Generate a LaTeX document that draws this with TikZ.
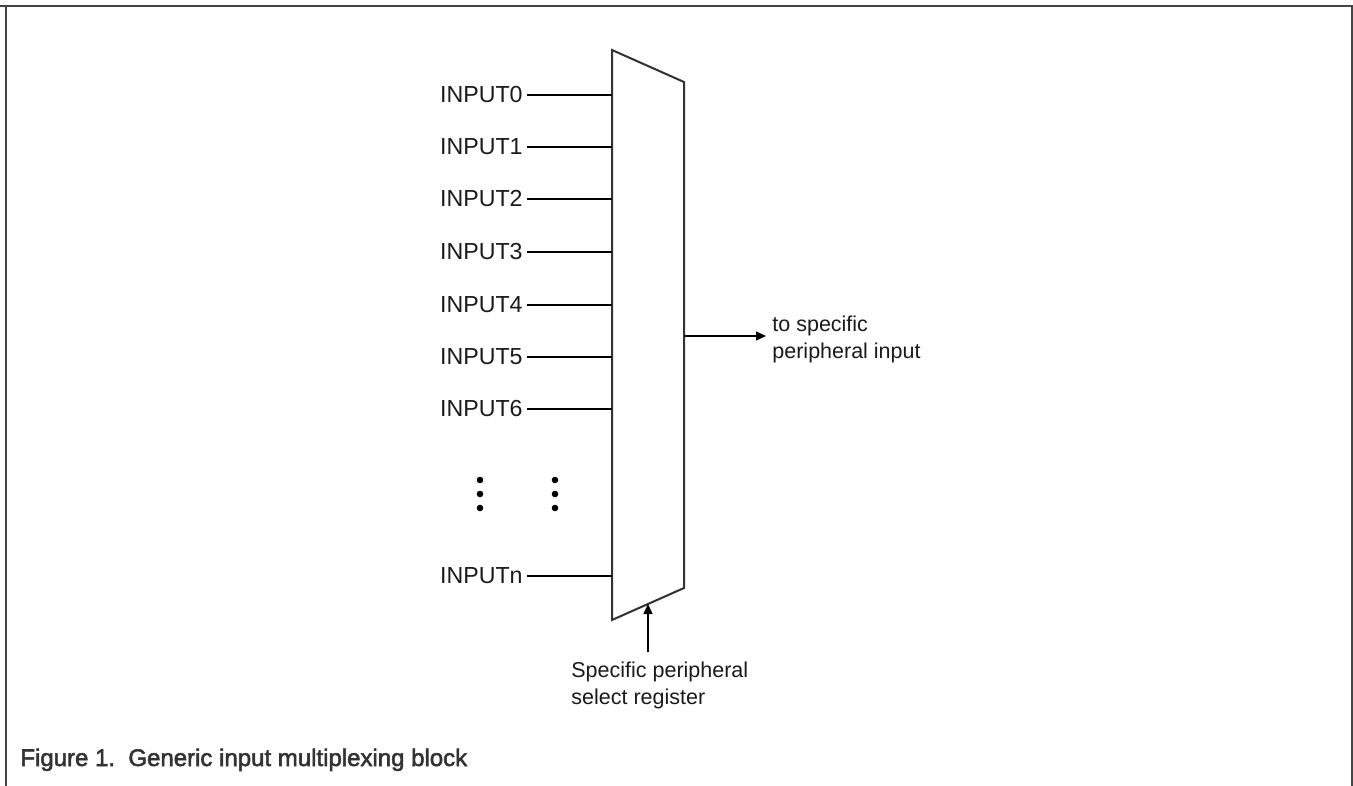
\documentclass[tikz,border=0pt]{standalone}
\usepackage{fontspec}
\setmainfont{Liberation Sans}
\newfontfamily\capfont[FakeBold=2.2]{Liberation Sans}
\usetikzlibrary{arrows.meta,calc}
\definecolor{frame}{HTML}{454545}
\definecolor{ink}{HTML}{1A1A1A}
\definecolor{muxline}{HTML}{333333}
\begin{document}
\begin{tikzpicture}[x=0.5pt,y=-0.5pt,
  lbl/.style={font=\fontsize{10.75}{13.5}\selectfont, text=ink, inner ysep=0pt, inner xsep=2pt},
  inlbl/.style={lbl, font=\fontsize{11.6}{14}\selectfont, anchor=east},
  wire/.style={draw=black, line width=0.7pt},
  muxbody/.style={draw=muxline, line width=1pt, line join=miter},
  arr/.style={wire, -{Triangle[length=5pt,width=4.5pt]}},
  vdot/.style={circle, fill=black, inner sep=0pt, minimum size=3.3pt},
  border/.style={draw=frame, line width=1.2pt}]
\useasboundingbox (0,0) rectangle (1353,786);

% page frame (open at the bottom)
\draw[border, line width=1.4pt] (0,6) -- (1353,6);
\draw[border] (6,6) -- (6,786);
\draw[border] (1352,6) -- (1352,786);

% multiplexer body
\coordinate (m1) at (612,50);
\coordinate (m2) at (684,82);
\coordinate (m3) at (684,588);
\coordinate (m4) at (612,620);
\draw[muxbody] (m1) -- (m2) -- (m3) -- (m4) -- cycle;

% inputs
\foreach \name/\txt/\yy in {in0/INPUT0/95, in1/INPUT1/147, in2/INPUT2/199, in3/INPUT3/252,
                             in4/INPUT4/305, in5/INPUT5/357, in6/INPUT6/409, inn/INPUTn/576} {
  \node[inlbl] (\name) at (527,\yy) {\txt};
  \draw[wire] (\name.east) -- (\name.east -| m1);
}

% ellipsis dots
\foreach \xx/\col in {480/a, 555/b} {
  \node[vdot] (d\col1) at (\xx,480) {};
  \node[vdot] (d\col2) at (\xx,494) {};
  \node[vdot] (d\col3) at (\xx,508) {};
}

% output
\coordinate (out) at (684,336);
\node[lbl, anchor=north west, align=left, inner xsep=3pt] (outlbl) at (766,316)
  {to specific\\peripheral input};
\draw[arr] (out) -- (out -| outlbl.west);

% select input
\coordinate (selbot) at ($(m4)!0.5!(m3)$);
\node[lbl, anchor=north west, align=left, inner xsep=0pt] (sel) at (571,662)
  {Specific peripheral\\select register};
\coordinate (selsrc) at (648,652);
\draw[arr] (selsrc) -- (selbot);

% caption
\node[anchor=base west, inner sep=0pt, text=muxline, font=\capfont\fontsize{12}{14}\selectfont] (cap) at (20,766)
  {Figure 1.\ \ Generic input multiplexing block};
\end{tikzpicture}
\end{document}
